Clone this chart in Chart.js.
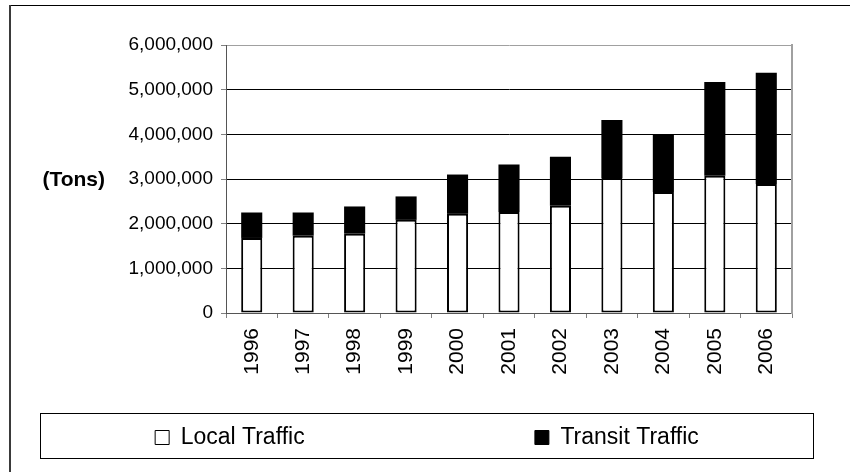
<!DOCTYPE html>
<html>
<head>
<meta charset="utf-8">
<script src="https://cdn.jsdelivr.net/npm/chart.js@4/dist/chart.umd.min.js"></script>
<style>
  html, body { margin: 0; padding: 0; background: #ffffff; }
  canvas { display: block; }
</style>
</head>
<body>
<canvas id="chart" width="850" height="472"></canvas>
<script>
// Annual freight volumes, in tons
const years = ['1996', '1997', '1998', '1999', '2000', '2001', '2002', '2003', '2004', '2005', '2006'];
const localTraffic   = [1680000, 1730000, 1775000, 2085000, 2220000, 2260000, 2400000, 3020000, 2710000, 3070000, 2890000];
const transitTraffic = [ 570000,  520000,  610000,  525000,  880000, 1065000, 1100000, 1300000, 1290000, 2100000, 2490000];
const seriesNames = ['Local Traffic', 'Transit Traffic'];
const yMax = 6000000;
const yStep = 1000000;
const unitLabel = '(Tons)';
const unitValue = 3000000;

const FONT = "'Liberation Sans', Arial, Helvetica, sans-serif";
// horizontal room between the two legend entries
const legendGap = ' '.repeat(34);

// Outer frame, legend frame and unit label
const framePlugin = {
  id: 'frame',
  beforeDraw(chart) {
    const ctx = chart.ctx;
    ctx.save();
    ctx.fillStyle = '#ffffff';
    ctx.fillRect(0, 0, chart.width, chart.height);
    ctx.strokeStyle = '#000000';
    ctx.lineWidth = 1;
    ctx.beginPath();
    ctx.moveTo(10, 5.5);
    ctx.lineTo(chart.width, 5.5);
    ctx.stroke();
    ctx.strokeStyle = '#3a3a3a';
    ctx.lineWidth = 2;
    ctx.beginPath();
    ctx.moveTo(10, 5);
    ctx.lineTo(10, chart.height);
    ctx.stroke();
    ctx.restore();
  },
  afterDraw(chart) {
    const ctx = chart.ctx;
    const lg = chart.legend;
    ctx.save();
    ctx.strokeStyle = '#000000';
    ctx.lineWidth = 1;
    ctx.strokeRect(Math.round(lg.left) + 0.5, Math.round(lg.top) + 0.5,
                   Math.round(lg.right - lg.left) - 1, Math.round(lg.bottom - lg.top) - 1);
    const y = chart.scales.y.getPixelForValue(unitValue);
    ctx.fillStyle = '#000000';
    ctx.font = 'bold 21px ' + FONT;
    ctx.textAlign = 'right';
    ctx.textBaseline = 'middle';
    ctx.fillText(unitLabel, 105, y + 1);
    ctx.restore();
  }
};

new Chart(document.getElementById('chart'), {
  type: 'bar',
  data: {
    labels: years,
    datasets: [
      {
        label: seriesNames[0],
        data: localTraffic,
        backgroundColor: '#ffffff',
        borderColor: '#000000',
        borderWidth: 2,
        borderSkipped: false,
        stack: 'traffic'
      },
      {
        label: seriesNames[1],
        data: transitTraffic,
        backgroundColor: '#000000',
        borderColor: '#000000',
        borderWidth: 0,
        stack: 'traffic'
      }
    ]
  },
  options: {
    responsive: false,
    devicePixelRatio: 1,
    animation: false,
    categoryPercentage: 1.0,
    barPercentage: 0.41,
    layout: { padding: { left: 40, right: 36, top: 45, bottom: 13 } },
    font: { family: FONT },
    plugins: {
      tooltip: { enabled: false },
      legend: {
        position: 'bottom',
        labels: {
          color: '#000000',
          font: { family: FONT, size: 23 },
          boxWidth: 14,
          boxHeight: 14,
          padding: 13,
          generateLabels(chart) {
            return chart.data.datasets.map((ds, i) => ({
              text: ds.label + (i === 0 ? legendGap : ''),
              fillStyle: ds.backgroundColor,
              strokeStyle: '#000000',
              lineWidth: 1,
              hidden: false,
              datasetIndex: i,
              fontColor: '#000000'
            }));
          }
        }
      }
    },
    scales: {
      x: {
        stacked: true,
        grid: {
          display: true,
          drawOnChartArea: false,
          drawTicks: true,
          tickLength: 5,
          color: '#808080',
          offset: true
        },
        border: { display: true, color: '#555555', width: 1 },
        ticks: {
          color: '#000000',
          font: { family: FONT, size: 21 },
          minRotation: 90,
          maxRotation: 90,
          autoSkip: false,
          padding: 10
        },
        afterFit(scale) { scale.height = 100; }
      },
      y: {
        stacked: true,
        min: 0,
        max: yMax,
        position: 'left',
        grid: {
          color: (ctx) => (ctx.tick && ctx.tick.value === yMax ? '#a0a0a0' : '#000000'),
          tickColor: '#808080',
          tickLength: 5,
          lineWidth: 1
        },
        border: { display: true, color: '#555555', width: 1 },
        ticks: {
          stepSize: yStep,
          color: '#000000',
          font: { family: FONT, size: 19 },
          padding: 8,
          callback: (v) => Number(v).toLocaleString('en-US')
        },
        afterFit(scale) { scale.width = 186; }
      },
      frameRight: {
        type: 'linear',
        position: 'right',
        display: true,
        grid: { display: false, drawTicks: false },
        ticks: { display: false },
        border: { display: true, color: '#a0a0a0', width: 2 },
        afterFit(scale) { scale.width = 22; }
      }
    }
  },
  plugins: [framePlugin]
});
</script>
</body>
</html>
